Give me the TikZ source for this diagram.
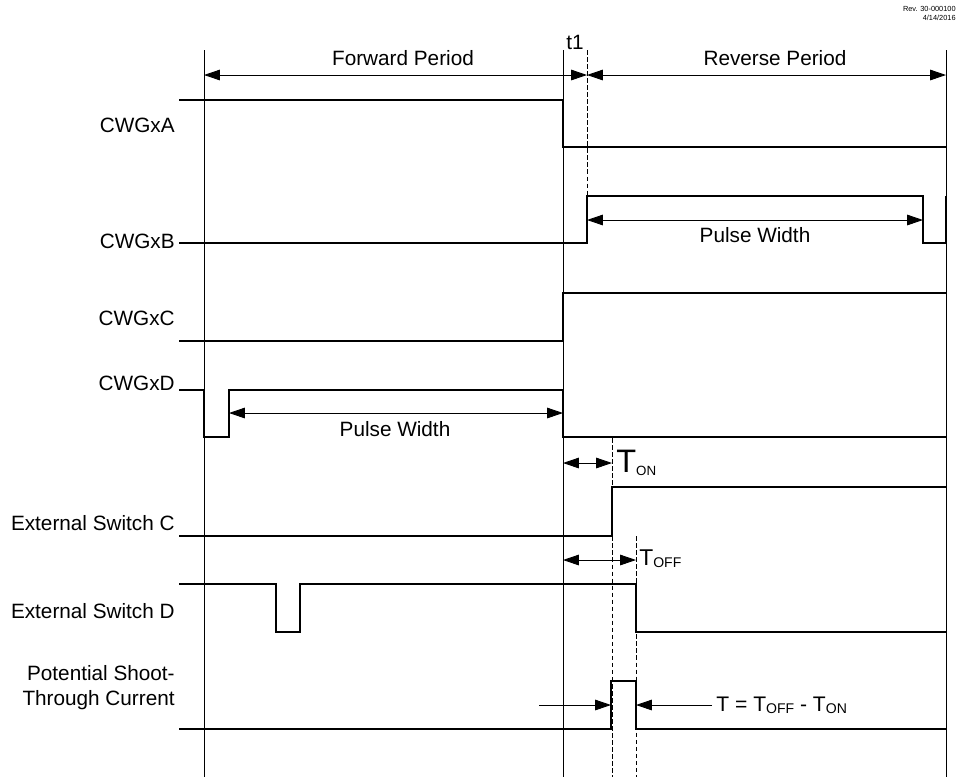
\documentclass[tikz,border=0pt]{standalone}
\usepackage{fontspec}
\setmainfont{Liberation Sans}
\usetikzlibrary{arrows.meta}
\tikzset{
    signal/.style={line width=1.1pt, line join=miter},
    frame/.style={line width=0.55pt},
    marker/.style={line width=0.55pt, dash pattern=on 2.6pt off 1.4pt},
    dimarrow/.style={{Triangle[length=9pt,width=6pt]}-{Triangle[length=9pt,width=6pt]}, line width=0.5pt},
    onearrow/.style={-{Triangle[length=9pt,width=6pt]}, line width=0.5pt},
    siglabel/.style={font=\fontsize{11.8}{14.2}\selectfont, inner sep=0pt, anchor=base east, align=right},
    dimtext/.style={font=\fontsize{11.8}{14.2}\selectfont, inner sep=0pt}
}
\newcommand{\tsub}[1]{\raisebox{-1.2pt}{\fontsize{8}{8}\selectfont #1}}

\begin{document}
\begin{tikzpicture}[x=0.02cm, y=-0.02cm]
    \useasboundingbox (0,0) rectangle (958,779);

    % Revision note
    \node[font=\fontsize{4.2}{5}\selectfont, inner sep=0pt, anchor=east] (revno) at (956,9) {Rev. 30-000100};
    \node[font=\fontsize{4.2}{5}\selectfont, inner sep=0pt, anchor=east] (date) at (956,18) {4/14/2016};

    % Frame lines
    \draw[frame] (204,50) -- (204,777);
    \draw[frame] (563,50) -- (563,777);
    \draw[frame] (946,50) -- (946,777);

    % Dashed markers
    \draw[marker] (587,50) -- (587,196);
    \draw[marker] (612,438) -- (612,777);
    \draw[marker] (636,536) -- (636,777);

    % Periods
    \coordinate (fwdL) at (204,75);
    \coordinate (fwdR) at (587,75);
    \coordinate (revR) at (946,75);
    \draw[dimarrow] (fwdL) -- (fwdR);
    \draw[dimarrow] (fwdR) -- (revR);
    \node[dimtext] (fwd) at (403,58) {Forward Period};
    \node[dimtext] (rev) at (775,58) {Reverse Period};
    \node[dimtext] (t1) at (575,42) {t1};

    % Signal labels
    \node[siglabel] (la) at (175,132) {CWGxA};
    \node[siglabel] (lb) at (175,248) {CWGxB};
    \node[siglabel] (lc) at (175,325) {CWGxC};
    \node[siglabel] (ld) at (175,390) {CWGxD};
    \node[siglabel] (lsc) at (175,530) {External Switch C};
    \node[siglabel] (lsd) at (175,618) {External Switch D};
    \node[siglabel] (lst) at (175,705) {Potential Shoot-\\Through Current};

    % CWGxA
    \draw[signal] (179,100) -- (563,100) -- (563,147) -- (946,147);
    % CWGxB
    \draw[signal] (179,243) -- (587,243) -- (587,196) -- (923,196) -- (923,243) -- (946,243) -- (946,196);
    % CWGxC
    \draw[signal] (179,341) -- (563,341) -- (563,293) -- (946,293);
    % CWGxD
    \draw[signal] (179,390) -- (204,390) -- (204,437) -- (229,437) -- (229,390) -- (563,390) -- (563,437) -- (946,437);
    % External Switch C
    \draw[signal] (179,536) -- (612,536) -- (612,487) -- (946,487);
    % External Switch D
    \draw[signal] (179,584) -- (276,584) -- (276,632) -- (300,632) -- (300,584) -- (636,584) -- (636,632) -- (946,632);
    % Potential Shoot-Through Current
    \draw[signal] (179,729) -- (611,729) -- (611,681) -- (636,681) -- (636,729) -- (946,729);

    % Pulse widths
    \coordinate (pbL) at (587,220);
    \coordinate (pbR) at (923,220);
    \draw[dimarrow] (pbL) -- (pbR);
    \node[dimtext] (pwb) at (755,235) {Pulse Width};
    \coordinate (pdL) at (229,413);
    \coordinate (pdR) at (563,413);
    \draw[dimarrow] (pdL) -- (pdR);
    \node[dimtext] (pwd) at (395,429) {Pulse Width};

    % Dead band delays
    \coordinate (onL) at (563,463);
    \coordinate (onR) at (612,463);
    \draw[dimarrow] (onL) -- (onR);
    \node[inner sep=0pt, anchor=west] (ton) at (616,463) {{\fontsize{18.5}{18.5}\selectfont T}\raisebox{-1.5pt}{\fontsize{7.6}{8}\selectfont ON}};
    \coordinate (offL) at (563,560);
    \coordinate (offR) at (636,560);
    \draw[dimarrow] (offL) -- (offR);
    \node[inner sep=0pt, anchor=west] (toff) at (639,559) {{\fontsize{13}{13}\selectfont T}\raisebox{-1.2pt}{\fontsize{8}{8}\selectfont OFF}};

    % Shoot-through window
    \coordinate (stA) at (539,705);
    \coordinate (stB) at (611,705);
    \coordinate (stC) at (712,705);
    \coordinate (stD) at (636,705);
    \draw[onearrow] (stA) -- (stB);
    \draw[onearrow] (stC) -- (stD);
    \node[inner sep=0pt, anchor=west, font=\fontsize{12}{12}\selectfont] (teq) at (716,705) {T = T\tsub{OFF} - T\tsub{ON}};
\end{tikzpicture}
\end{document}
